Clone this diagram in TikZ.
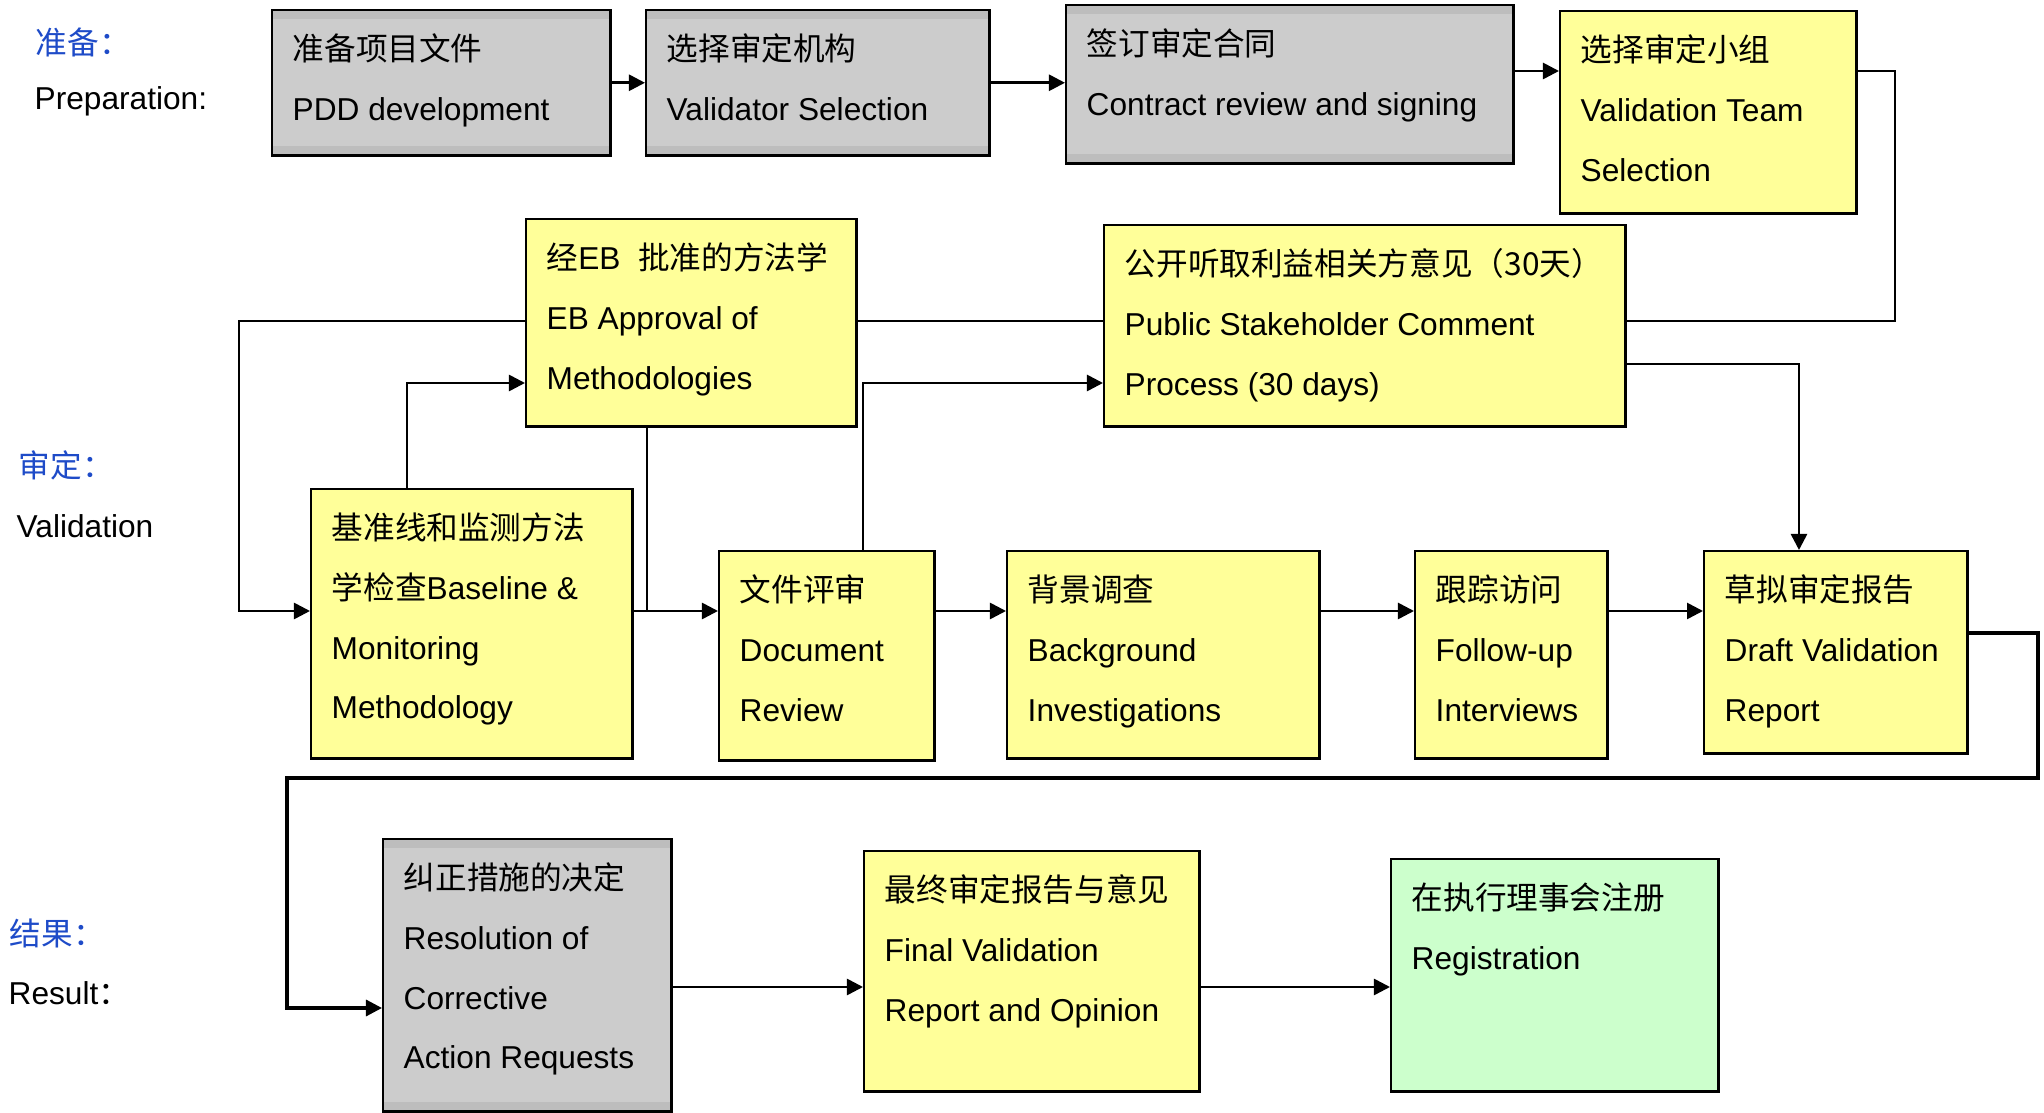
\documentclass[tikz,border=0pt]{standalone}
\usepackage{fontspec}
\setmainfont{Liberation Sans}
\newfontfamily\cjk{Noto Sans CJK SC}
\usepackage{xcolor}
\usepackage{tikz}
\usetikzlibrary{arrows.meta,positioning,backgrounds}
\definecolor{boxgray}{HTML}{CCCCCC}
\definecolor{bargray}{HTML}{BDBDBD}
\definecolor{boxyellow}{HTML}{FFFF99}
\definecolor{boxgreen}{HTML}{CCFFCC}
\definecolor{phaseblue}{RGB}{30,75,200}

\begin{document}
\begin{tikzpicture}[x=0.01cm, y=-0.01cm,
  box/.style={draw, line width=0.7pt, anchor=north west, inner sep=0pt},
  graybox/.style={box, fill=boxgray, path picture={
      \fill[bargray] (path picture bounding box.north west) rectangle ([yshift=-0.09cm]path picture bounding box.north east);
      \fill[bargray] (path picture bounding box.south west) rectangle ([yshift=0.09cm]path picture bounding box.south east);}},
  yellowbox/.style={box, fill=boxyellow},
  greenbox/.style={box, fill=boxgreen},
  txt/.style={anchor=north west, inner sep=0pt, align=left, font=\fontsize{9pt}{17pt}\selectfont},
  phase/.style={anchor=west, inner sep=0pt, font=\fontsize{9pt}{11pt}\selectfont},
  arr/.style={line width=0.75pt, -{Triangle[length=0.16cm, width=0.16cm]}},
  line/.style={line width=0.75pt}]
\useasboundingbox (0,0) rectangle (2044,1113);

% Phase labels
\node[phase, text=phaseblue] (prepzh) at (35,42) {\cjk 准备：};
\node[phase] (prepen) at (34,101) {Preparation:};
\node[phase, text=phaseblue] (valzh) at (18,465) {\cjk 审定：};
\node[phase] (valen) at (16,526) {Validation};
\node[phase, text=phaseblue] (reszh) at (9,933) {\cjk 结果：};
\node[phase] (resen) at (8,993) {Result{\cjk ：}};

% Preparation row
\node[graybox, minimum width=3.38cm, minimum height=1.45cm] (pdd) at (271,9) {};
\node[txt] (pdd-t) at ([shift={(21,9)}]pdd.north west) {\strut{\cjk 准备项目文件}\\PDD development};
\node[graybox, minimum width=3.43cm, minimum height=1.45cm] (sel) at (645,9) {};
\node[txt] (sel-t) at ([shift={(21,9)}]sel.north west) {\strut{\cjk 选择审定机构}\\Validator Selection};
\node[graybox, minimum width=4.47cm, minimum height=1.58cm] (con) at (1065,4) {};
\node[txt] (con-t) at ([shift={(21,9)}]con.north west) {\strut{\cjk 签订审定合同}\\Contract review and signing};
\node[yellowbox, minimum width=2.96cm, minimum height=2.02cm] (team) at (1559,10) {};
\node[txt] (team-t) at ([shift={(21,9)}]team.north west) {\strut{\cjk 选择审定小组}\\Validation Team\\Selection};

% Validation
\node[yellowbox, minimum width=3.30cm, minimum height=2.07cm] (eb) at (525,218) {};
\node[txt] (eb-t) at ([shift={(21,9)}]eb.north west) {\strut{\cjk 经}EB\ \ {\cjk 批准的方法学}\\EB Approval of\\Methodologies};
\node[yellowbox, minimum width=5.21cm, minimum height=2.01cm] (pub) at (1103,224) {};
\node[txt] (pub-t) at ([shift={(21,9)}]pub.north west) {\strut{\cjk 公开听取利益相关方意见（30天）}\\Public Stakeholder Comment\\Process (30 days)};
\node[yellowbox, minimum width=3.21cm, minimum height=2.69cm] (base) at (310,488) {};
\node[txt] (base-t) at ([shift={(21,9)}]base.north west) {\strut{\cjk 基准线和监测方法}\\{\cjk 学检查}Baseline \&\\Monitoring\\Methodology};
\node[yellowbox, minimum width=2.15cm, minimum height=2.09cm] (doc) at (718,550) {};
\node[txt] (doc-t) at ([shift={(21,9)}]doc.north west) {\strut{\cjk 文件评审}\\Document\\Review};
\node[yellowbox, minimum width=3.12cm, minimum height=2.07cm] (bg) at (1006,550) {};
\node[txt] (bg-t) at ([shift={(21,9)}]bg.north west) {\strut{\cjk 背景调查}\\Background\\Investigations};
\node[yellowbox, minimum width=1.92cm, minimum height=2.07cm] (fu) at (1414,550) {};
\node[txt] (fu-t) at ([shift={(21,9)}]fu.north west) {\strut{\cjk 跟踪访问}\\Follow-up\\Interviews};
\node[yellowbox, minimum width=2.63cm, minimum height=2.02cm] (draft) at (1703,550) {};
\node[txt] (draft-t) at ([shift={(21,9)}]draft.north west) {\strut{\cjk 草拟审定报告}\\Draft Validation\\Report};

% Result
\node[graybox, minimum width=2.88cm, minimum height=2.72cm] (res) at (382,838) {};
\node[txt] (res-t) at ([shift={(21,9)}]res.north west) {\strut{\cjk 纠正措施的决定}\\Resolution of\\Corrective\\Action Requests};
\node[yellowbox, minimum width=3.35cm, minimum height=2.40cm] (fin) at (863,850) {};
\node[txt] (fin-t) at ([shift={(21,9)}]fin.north west) {\strut{\cjk 最终审定报告与意见}\\Final Validation\\Report and Opinion};
\node[greenbox, minimum width=3.27cm, minimum height=2.32cm] (reg) at (1390,858) {};
\node[txt] (reg-t) at ([shift={(21,9)}]reg.north west) {\strut{\cjk 在执行理事会注册}\\Registration};

% Preparation arrows
\draw[arr] (pdd.east) -- (sel.west);
\draw[arr] (sel.east) -- (sel.east -| con.west);
\draw[arr] (con.east |- 0,71) -- (team.west |- 0,71);

% Loop behind the boxes
\begin{scope}[on background layer]
\draw[arr] (team.east |- 0,71) -| (1895,321) -- (239,321) |- (base.west |- 0,611);
\end{scope}

% Validation arrows
\draw[arr] (base.north -| 407,0) |- (eb.west |- 0,383);
\draw[arr] (doc.north -| 863,0) |- (pub.west |- 0,383);
\draw[line] (eb.south -| 647,0) -- (647,611);
\draw[arr] (base.east |- 0,611) -- (doc.west |- 0,611);
\draw[arr] (doc.east |- 0,611) -- (bg.west |- 0,611);
\draw[arr] (bg.east |- 0,611) -- (fu.west |- 0,611);
\draw[arr] (fu.east |- 0,611) -- (draft.west |- 0,611);
\draw[arr] (pub.east |- 0,364) -| (draft.north -| 1799,0);

% Draft report to result
\draw[arr, line width=0.9pt] (draft.east |- 0,633) -| (2038,778) -- (287,778) |- (res.west |- 0,1008);

% Result arrows
\draw[arr] (res.east |- 0,987) -- (fin.west |- 0,987);
\draw[arr] (fin.east |- 0,987) -- (reg.west |- 0,987);

\end{tikzpicture}
\end{document}
